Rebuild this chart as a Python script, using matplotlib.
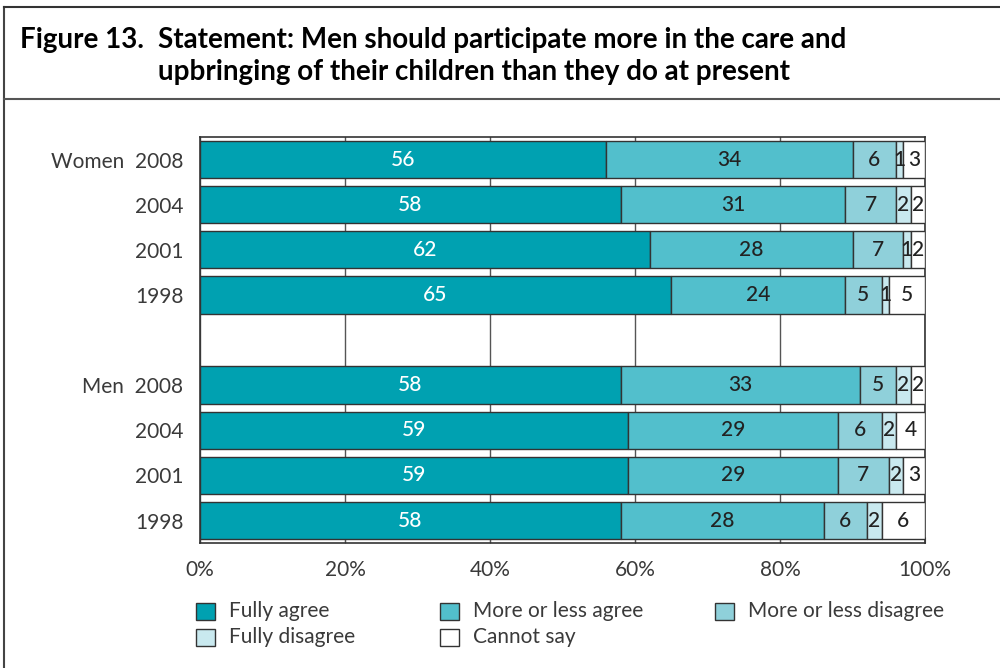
import matplotlib
matplotlib.use('Agg')
import matplotlib.pyplot as plt
from matplotlib.patches import Rectangle
from matplotlib.lines import Line2D
import numpy as np

plt.rcParams['font.family'] = ['Lato', 'DejaVu Sans']

# rows top to bottom, blank row separates women and men
row_labels = ['Women  2008', '2004', '2001', '1998', '', 'Men  2008', '2004', '2001', '1998']
categories = ['Fully agree', 'More or less agree', 'More or less disagree', 'Fully disagree', 'Cannot say']
fully_agree = [56, 58, 62, 65, None, 58, 59, 59, 58]
more_agree = [34, 31, 28, 24, None, 33, 29, 29, 28]
more_disagree = [6, 7, 7, 5, None, 5, 6, 7, 6]
fully_disagree = [1, 2, 1, 1, None, 2, 2, 2, 2]
cannot_say = [3, 2, 2, 5, None, 2, 4, 3, 6]
x_ticks = [0, 20, 40, 60, 80, 100]
x_ticklabels = ['0%', '20%', '40%', '60%', '80%', '100%']

colors = ['#00a1b1', '#52bfcc', '#8fd0da', '#c9e9ef', '#ffffff']
text_colors = ['white', '#222222', '#222222', '#222222', '#222222']
edge = '#333333'
label_color = '#3a3a3a'

fig = plt.figure(figsize=(10, 6.68), dpi=100)
ax = fig.add_axes([0.2, 0.187, 0.725, 0.608])

series = [fully_agree, more_agree, more_disagree, fully_disagree, cannot_say]
ypos = np.arange(len(row_labels))
left = np.zeros(len(row_labels))
for vals, col, tcol, name in zip(series, colors, text_colors, categories):
    for i, v in enumerate(vals):
        if v is None:
            continue
        ax.barh(ypos[i], v, left=left[i], height=0.83, color=col,
                edgecolor=edge, linewidth=1.0, zorder=3)
        ax.text(left[i] + v / 2, ypos[i], str(v), ha='center', va='center',
                fontsize=15, fontweight='medium', color=tcol, zorder=4)
        left[i] += v

ax.set_xlim(0, 100)
ax.set_ylim(len(row_labels) - 0.5, -0.5)
ax.set_xticks(x_ticks)
ax.set_xticklabels(x_ticklabels, fontsize=15, color=label_color)
ax.set_yticks(ypos)
ax.set_yticklabels(row_labels, fontsize=15, color=label_color)
ax.tick_params(axis='y', length=0, pad=12)
ax.tick_params(axis='x', direction='in', length=4, pad=12, color='#555555')
ax.grid(axis='x', color='#555555', linewidth=1.0, zorder=0)
for s in ax.spines.values():
    s.set_color('#333333')
    s.set_linewidth(1.2)

# title block and frame
fig.text(0.02, 0.94, 'Figure 13.', fontsize=20, fontweight='bold', va='center')
fig.text(0.158, 0.94, 'Statement: Men should participate more in the care and',
         fontsize=20, fontweight='bold', va='center')
fig.text(0.158, 0.892, 'upbringing of their children than they do at present',
         fontsize=20, fontweight='bold', va='center')
fig.add_artist(Line2D([0.004, 0.004], [0, 0.99], color='#444444', lw=1.5))
fig.add_artist(Line2D([0.004, 1.0], [0.99, 0.99], color='#333333', lw=1.5))
fig.add_artist(Line2D([0.004, 1.0], [0.852, 0.852], color='#555555', lw=1.5))

# legend laid out in two rows
legend_pos = [(0.196, 0.085), (0.440, 0.085), (0.715, 0.085),
              (0.196, 0.046), (0.440, 0.046)]
for (lx, ly), col, name in zip(legend_pos, colors, categories):
    fig.add_artist(Rectangle((lx, ly - 0.013), 0.019, 0.026, transform=fig.transFigure,
                             facecolor=col, edgecolor=edge, linewidth=1.0))
    fig.text(lx + 0.033, ly, name, fontsize=15, color=label_color, va='center')

plt.savefig('out.png', dpi=100)
